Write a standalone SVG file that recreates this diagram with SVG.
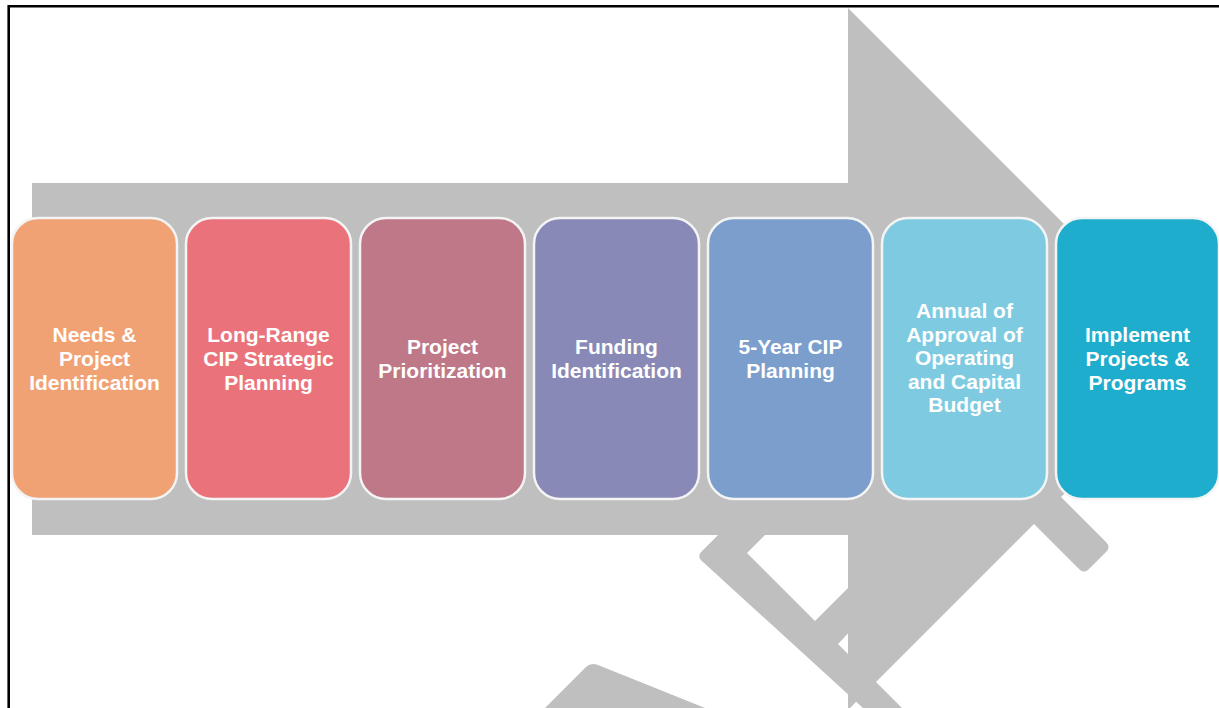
<svg xmlns="http://www.w3.org/2000/svg" width="1219" height="708" viewBox="0 0 1219 708">
  <style>
    .wm { fill: #BFBFBF; }
    .arrow { fill: #BFBFBF; }
    .box { stroke: #F4F4F4; stroke-width: 2.5; }
    .lbl { font-family: "Liberation Sans", Arial, sans-serif; font-weight: bold; font-size: 21px; fill: #FFFFFF; text-anchor: middle; }
  </style>
  <rect x="0" y="0" width="1219" height="708" fill="#FFFFFF"/>
  <g id="watermark">
    <path class="wm" d="M920,760 L703,562 Q696,557 702,551 L955,300 L1000,300 L747,553 L815,621 L900,536 L940,536 L838,644 L960,766 Z"/>
    <path class="wm" d="M1005,495 L1032,468 L1106,542 Q1111,547 1106,552 L1089,569 Q1084,574 1079,569 Z"/>
    <path class="wm" d="M530,723 L586,667 Q591,662 598,665 L725,716 Z"/>
  </g>
  <g id="arrow">
    <polygon class="arrow" points="32,183 848,183 848,8 1199,359 848,710 848,535 32,535"/>
  </g>
  <g id="frame">
    <path d="M8.7,708 V6.2 H1219" fill="none" stroke="#000000" stroke-width="2.6"/>
  </g>
  <g id="connectors"></g>
  <g id="node1">
    <rect class="box" x="12" y="218" width="165" height="281" rx="26" fill="#F1A275"/>
    <text class="lbl" x="94.5" y="342">Needs &amp;</text>
    <text class="lbl" x="94.5" y="366">Project</text>
    <text class="lbl" x="94.5" y="390">Identification</text>
  </g>
  <g id="node2">
    <rect class="box" x="186" y="218" width="165" height="281" rx="26" fill="#EA737B"/>
    <text class="lbl" x="268.5" y="342">Long-Range</text>
    <text class="lbl" x="268.5" y="366">CIP Strategic</text>
    <text class="lbl" x="268.5" y="390">Planning</text>
  </g>
  <g id="node3">
    <rect class="box" x="360" y="218" width="165" height="281" rx="26" fill="#BE7887"/>
    <text class="lbl" x="442.5" y="354">Project</text>
    <text class="lbl" x="442.5" y="378">Prioritization</text>
  </g>
  <g id="node4">
    <rect class="box" x="534" y="218" width="165" height="281" rx="26" fill="#8889B6"/>
    <text class="lbl" x="616.5" y="354">Funding</text>
    <text class="lbl" x="616.5" y="378">Identification</text>
  </g>
  <g id="node5">
    <rect class="box" x="708" y="218" width="165" height="281" rx="26" fill="#7B9ECD"/>
    <text class="lbl" x="790.5" y="354">5-Year CIP</text>
    <text class="lbl" x="790.5" y="378">Planning</text>
  </g>
  <g id="node6">
    <rect class="box" x="882" y="218" width="165" height="281" rx="26" fill="#7ECBE1"/>
    <text class="lbl" x="964.5" y="318">Annual of</text>
    <text class="lbl" x="964.5" y="341.5">Approval of</text>
    <text class="lbl" x="964.5" y="365">Operating</text>
    <text class="lbl" x="964.5" y="388.5">and Capital</text>
    <text class="lbl" x="964.5" y="412">Budget</text>
  </g>
  <g id="node7">
    <rect class="box" x="1056" y="218" width="163" height="281" rx="26" fill="#1FADCE"/>
    <text class="lbl" x="1137.5" y="342">Implement</text>
    <text class="lbl" x="1137.5" y="366">Projects &amp;</text>
    <text class="lbl" x="1137.5" y="390">Programs</text>
  </g>
</svg>
